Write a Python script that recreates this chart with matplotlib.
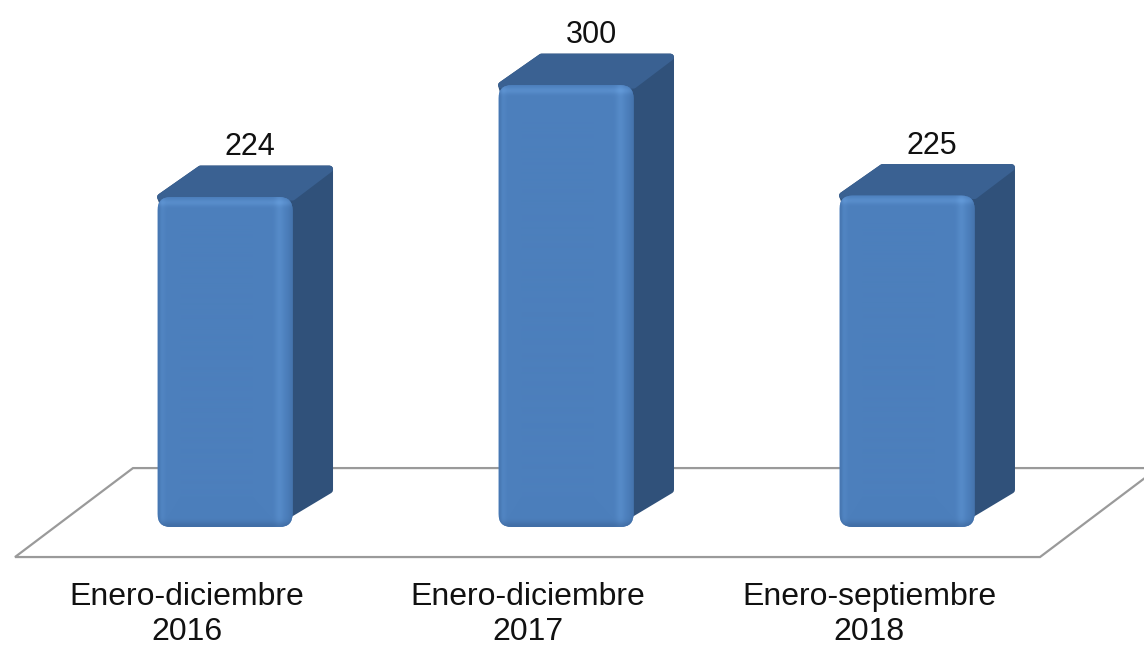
import numpy as np
import matplotlib
matplotlib.use("Agg")
import matplotlib.pyplot as plt
from matplotlib.patches import FancyBboxPatch, Polygon

# datos del grafico
categorias = ["Enero-diciembre\n2016", "Enero-diciembre\n2017", "Enero-septiembre\n2018"]
valores = [224, 300, 225]

W, H = 1144, 646
XMIN, XMAX = -0.66, 2.695
YMIN, YMAX = -80.8, 357.8

fig = plt.figure(figsize=(W / 100, H / 100), dpi=100)
ax = fig.add_axes([0, 0, 1, 1])
ax.axis('off')

px_x = W / (XMAX - XMIN)   # pixeles por unidad x
px_y = H / (YMAX - YMIN)   # pixeles por unidad y

# medidas en pixeles -> datos
ancho = 135 / px_x
dx = 40 / px_x
dy = 31 / px_y
rx = 13 / px_x
aspecto = px_x / px_y

frente = np.array([76, 127, 188]) / 255
claro = np.array([100, 155, 218]) / 255
oscuro = np.array([55, 94, 145]) / 255
lateral = '#30517a'
tapa = '#3a6192'

# piso (paralelogramo)
piso_frente, piso_fondo = -20.4, 40.0
sesgo = 118 / px_x
xl, xr = -0.616, 2.39
piso = Polygon([(xl, piso_frente), (xr, piso_frente), (xr + sesgo, piso_fondo),
                (xl + sesgo, piso_fondo)], closed=True, facecolor='white',
               edgecolor='#9a9a9a', lw=1.6, zorder=1)
ax.add_patch(piso)


def sombreado(nx, ny):
    j = np.arange(nx)[None, :]
    i = np.arange(ny)[:, None]
    dl, dr = j, nx - 1 - j
    dt, db = i, ny - 1 - i
    img = np.ones((ny, nx, 3)) * frente
    m_claro = (0.5 * np.exp(-((dt - 5) / 3.5) ** 2)
               + 0.4 * np.exp(-((dr - 13) / 4.5) ** 2)
               + 0.2 * np.exp(-((dl - 4) / 3.0) ** 2))
    m_claro = np.clip(m_claro, 0, 1)
    m_osc = np.clip(0.5 * np.exp(-(db / 5.0) ** 2) + 0.3 * np.exp(-(dr / 4.0) ** 2)
                    + 0.25 * np.exp(-(dl / 2.0) ** 2), 0, 1)
    img = img * (1 - m_claro[..., None]) + claro * m_claro[..., None]
    img = img * (1 - m_osc[..., None]) + oscuro * m_osc[..., None]
    return np.clip(img, 0, 1)


for k, (cat, v) in enumerate(zip(categorias, valores)):
    x0 = k - ancho / 2
    x1 = k + ancho / 2
    e = 3 / px_x   # retraccion para el borde redondeado
    ey = 3 / px_y
    # cuerpo lateral + tapa, con esquinas redondeadas por el grosor del borde
    cuerpo = Polygon([(x0 + e, v), (x0 + dx + e, v + dy - ey), (x1 + dx - e, v + dy - ey),
                      (x1 + dx - e, dy + 6 / px_y), (x1 - rx, 7 / px_y)],
                     closed=True, facecolor=lateral, edgecolor=lateral,
                     lw=5, joinstyle='round', zorder=2)
    ax.add_patch(cuerpo)
    arriba = Polygon([(x0 + e, v), (x0 + dx + e, v + dy - ey), (x1 + dx - e, v + dy - ey),
                      (x1, v)], closed=True, facecolor=tapa, edgecolor=tapa,
                     lw=5, joinstyle='round', zorder=2.1)
    ax.add_patch(arriba)
    # cara frontal redondeada
    cara = FancyBboxPatch((x0, 0), ancho, v,
                          boxstyle="round,pad=0,rounding_size=%f" % rx,
                          mutation_aspect=aspecto, facecolor=frente,
                          edgecolor='none', zorder=3)
    ax.add_patch(cara)
    img = sombreado(int(ancho * px_x), int(v * px_y))
    im = ax.imshow(img, extent=(x0, x1, 0, v), origin='upper', aspect='auto',
                   interpolation='bilinear', zorder=3.5)
    im.set_clip_path(cara)

    ax.annotate(str(v), xy=(k, v), xytext=(25, 42), textcoords='offset pixels',
                ha='center', va='baseline', fontsize=22, family='Liberation Sans',
                color='#111111')
    ax.annotate(cat, xy=(k, 0), xytext=(-38, -55), textcoords='offset pixels',
                ha='center', va='top', fontsize=23, family='Liberation Sans',
                linespacing=1.23, color='#111111')

ax.set_xlim(XMIN, XMAX)
ax.set_ylim(YMIN, YMAX)
fig.savefig("out.png", dpi=100)
